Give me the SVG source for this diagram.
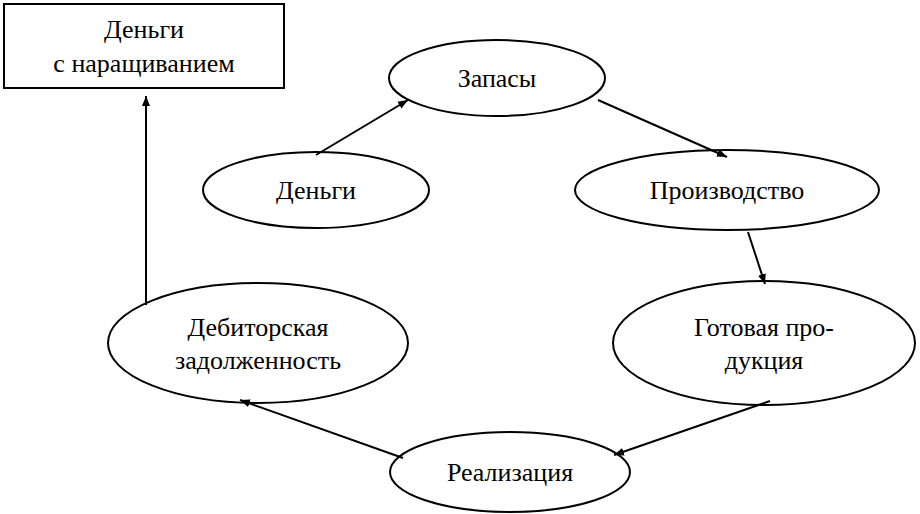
<svg xmlns="http://www.w3.org/2000/svg" width="920" height="514" viewBox="0 0 920 514">
<style>
.n{fill:#fff;stroke:#000;stroke-width:2}
text{font-family:"Liberation Serif",serif;font-size:26px;text-anchor:middle;fill:#000}
.c line{stroke:#000;stroke-width:2;marker-end:url(#a)}
</style>
<defs><marker id="a" viewBox="0 0 10 10" refX="10" refY="5" markerWidth="10" markerHeight="10" markerUnits="userSpaceOnUse" orient="auto"><path d="M0,1 L10,5 L0,9 Z" fill="#000"/></marker></defs>
<rect width="920" height="514" fill="#fff"/>
<g id="money-growth"><rect class="n" x="4" y="4" width="280" height="84"/><text x="144" y="38">Деньги</text><text x="144" y="72">с наращиванием</text></g>
<g id="zapasy"><ellipse class="n" cx="497" cy="78" rx="108" ry="38"/><text x="497" y="87">Запасы</text></g>
<g id="dengi"><ellipse class="n" cx="316" cy="190" rx="113" ry="38"/><text x="316" y="199">Деньги</text></g>
<g id="proizvodstvo"><ellipse class="n" cx="727" cy="190" rx="152" ry="40"/><text x="727" y="199">Производство</text></g>
<g id="gotovaya"><ellipse class="n" cx="764" cy="343" rx="151" ry="62"/><text x="764" y="336">Готовая про-</text><text x="764" y="369">дукция</text></g>
<g id="debitor"><ellipse class="n" cx="258" cy="343" rx="150" ry="60"/><text x="258" y="336">Дебиторская</text><text x="258" y="369">задолженность</text></g>
<g id="realizaciya"><ellipse class="n" cx="510" cy="472" rx="120" ry="40"/><text x="510" y="481">Реализация</text></g>
<g class="c" id="connectors">
<line x1="316" y1="155" x2="408" y2="100"/>
<line x1="598" y1="100" x2="727" y2="157"/>
<line x1="748" y1="232" x2="765" y2="284"/>
<line x1="770" y1="401" x2="614" y2="455"/>
<line x1="403" y1="458" x2="240" y2="400"/>
<line x1="146" y1="305" x2="146" y2="96"/>
</g>
</svg>
